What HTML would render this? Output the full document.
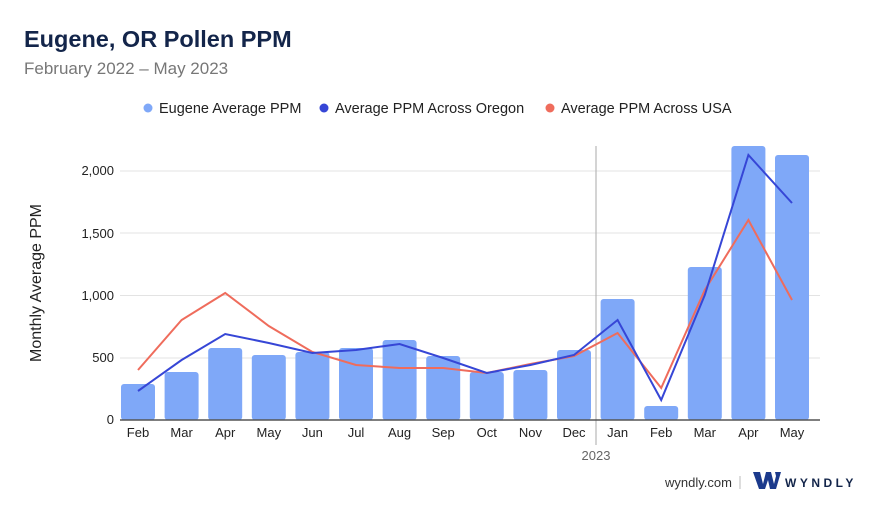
<!DOCTYPE html>
<html><head><meta charset="utf-8"><style>
body{margin:0;background:#fff;font-family:"Liberation Sans",sans-serif;}
</style></head><body>
<svg width="880" height="510" xmlns="http://www.w3.org/2000/svg" font-family="Liberation Sans, sans-serif">
<rect width="880" height="510" fill="#fff"/>
<text x="24" y="47" font-size="23.5" font-weight="bold" fill="#13254a">Eugene, OR Pollen PPM</text>
<text x="24" y="74" font-size="17" fill="#777">February 2022 – May 2023</text>
<g font-size="14.5" fill="#222">
<circle cx="148" cy="108" r="4.5" fill="#7fa8f8"/><text x="159" y="113">Eugene Average PPM</text>
<circle cx="324" cy="108" r="4.5" fill="#3646d6"/><text x="335" y="113">Average PPM Across Oregon</text>
<circle cx="550" cy="108" r="4.5" fill="#ef6c5c"/><text x="561" y="113">Average PPM Across USA</text>
</g>
<g stroke="#e3e3e3" stroke-width="1">
<line x1="120" y1="171" x2="820" y2="171"/><line x1="120" y1="233" x2="820" y2="233"/>
<line x1="120" y1="295.5" x2="820" y2="295.5"/><line x1="120" y1="358" x2="820" y2="358"/>
</g>
<g font-size="13" fill="#222" text-anchor="end">
<text x="114" y="175">2,000</text><text x="114" y="238">1,500</text><text x="114" y="300">1,000</text><text x="114" y="362">500</text><text x="114" y="424">0</text>
</g>
<text transform="translate(41,283) rotate(-90)" font-size="16" fill="#222" text-anchor="middle">Monthly Average PPM</text>
<line x1="596" y1="146" x2="596" y2="445" stroke="#aaa" stroke-width="1"/>
<g fill="#7fa8f8">
<rect x="121" y="384" width="34" height="36" rx="3"/>
<rect x="164.6" y="372" width="34" height="48" rx="3"/>
<rect x="208.2" y="348" width="34" height="72" rx="3"/>
<rect x="251.8" y="355" width="34" height="65" rx="3"/>
<rect x="295.4" y="352" width="34" height="68" rx="3"/>
<rect x="339" y="348" width="34" height="72" rx="3"/>
<rect x="382.6" y="340" width="34" height="80" rx="3"/>
<rect x="426.2" y="356" width="34" height="64" rx="3"/>
<rect x="469.8" y="372" width="34" height="48" rx="3"/>
<rect x="513.4" y="370" width="34" height="50" rx="3"/>
<rect x="557" y="350" width="34" height="70" rx="3"/>
<rect x="600.6" y="299" width="34" height="121" rx="3"/>
<rect x="644.2" y="406" width="34" height="14" rx="3"/>
<rect x="687.8" y="267" width="34" height="153" rx="3"/>
<rect x="731.4" y="146" width="34" height="274" rx="3"/>
<rect x="775" y="155" width="34" height="265" rx="3"/>
</g>
<line x1="120" y1="420" x2="820" y2="420" stroke="#555" stroke-width="1.5"/>
<polyline fill="none" stroke="#ef6c5c" stroke-width="2" points="138,370 181.6,320 225.2,293 268.8,326 312.4,352 356,365 399.6,368 443.2,368 486.8,373 530.4,364 574,356 617.6,333 661.2,388 704.8,290 748.4,220 792,300"/>
<polyline fill="none" stroke="#3646d6" stroke-width="2" points="138,391 181.6,360 225.2,334 268.8,343 312.4,353 356,350 399.6,344 443.2,358 486.8,373 530.4,365 574,355 617.6,320 661.2,400 704.8,295 748.4,155 792,203"/>
<g font-size="13" fill="#222" text-anchor="middle">
<text x="138" y="437">Feb</text><text x="181.6" y="437">Mar</text><text x="225.2" y="437">Apr</text><text x="268.8" y="437">May</text><text x="312.4" y="437">Jun</text><text x="356" y="437">Jul</text><text x="399.6" y="437">Aug</text><text x="443.2" y="437">Sep</text><text x="486.8" y="437">Oct</text><text x="530.4" y="437">Nov</text><text x="574" y="437">Dec</text><text x="617.6" y="437">Jan</text><text x="661.2" y="437">Feb</text><text x="704.8" y="437">Mar</text><text x="748.4" y="437">Apr</text><text x="792" y="437">May</text>
<text x="596" y="460" fill="#666">2023</text>
</g>
<text x="665" y="487" font-size="13" fill="#333">wyndly.com</text>
<line x1="740" y1="476" x2="740" y2="489" stroke="#bbb"/>
<path d="M753 472 L760 472 L763 484 L766 472 L771 472 L774 484 L776 476 L775 472 L781 472 L776 489 L770 489 L768 480 L765 489 L759 489 Z" fill="#1b3a8c"/>
<text x="785" y="487" font-size="12" font-weight="bold" letter-spacing="3.5" fill="#13254a">WYNDLY</text>
</svg>
</body></html>
